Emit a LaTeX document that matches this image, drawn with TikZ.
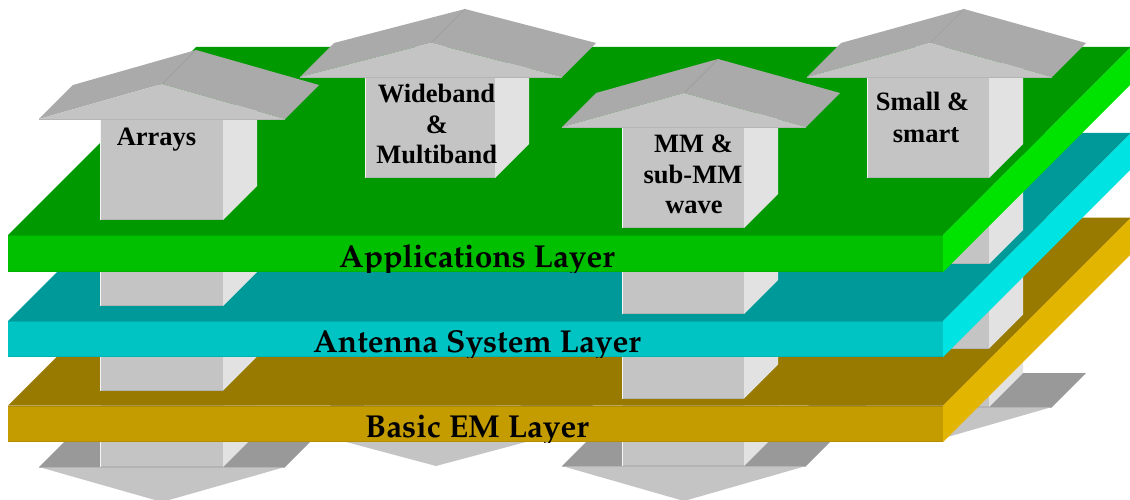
\documentclass[tikz,border=0pt]{standalone}
\usepackage[T1]{fontenc}
\usepackage{fontspec}
\newfontfamily\timesfont{Liberation Serif}
\IfFileExists{t1ppl.fd}
  {\newcommand\palb{\fontencoding{T1}\fontfamily{ppl}\fontseries{b}\fontsize{31.7}{34}\selectfont}}
  {\newcommand\palb{\timesfont\bfseries\fontsize{33.5}{36}\selectfont}}
\definecolor{gTop}{HTML}{009900}
\definecolor{gFront}{HTML}{00C000}
\definecolor{gSide}{HTML}{00E300}
\definecolor{cTop}{HTML}{009999}
\definecolor{cFront}{HTML}{00C3C3}
\definecolor{cSide}{HTML}{00E3E3}
\definecolor{oTop}{HTML}{997A00}
\definecolor{oFront}{HTML}{C49C00}
\definecolor{oSide}{HTML}{E2B500}
\definecolor{pFront}{HTML}{C4C4C4}
\definecolor{pSide}{HTML}{E2E2E2}
\definecolor{pRoof}{HTML}{AAAAAA}
\definecolor{pFlange}{HTML}{999999}
\definecolor{pEdge}{HTML}{B4B4B4}
\tikzset{
  layerlabel/.style={font=\palb, text=black, inner sep=0pt, anchor=base},
  arrowtxt/.style={font=\timesfont\bfseries\fontsize{26.5}{30}\selectfont, text=black, inner sep=0pt, anchor=base},
}
% layer: Ytop, Ybottom, top colour, front colour, side colour, node name, label
\newcommand\drawlayer[7]{%
  \fill[#3] (8,#1) -- (943,#1) -- (1131,{#1-188}) -- (196,{#1-188}) -- cycle;
  \fill[#4] (8,#1) rectangle (943,#2);
  \draw[#4!88!black, line width=1.2pt] (8,{#1+0.6}) -- (943,{#1+0.6});
  \draw[#4!92!black, line width=0.8pt] (8,{#2-0.4}) -- (943,{#2-0.4});
  \fill[#5] (943,#1) -- (1131,{#1-188}) -- (1131,{#2-188}) -- (943,#2) -- cycle;
  \begin{scope}
    \clip (8,#1) rectangle (943,#2);
    \node[layerlabel] (#6) at (477,{#2-5}) {#7};
  \end{scope}}
% column: L, R, ybottom, ytop
\newcommand\pcol[4]{%
  \fill[pSide] (#2,#3) -- ({#2+34},{#3-34}) -- ({#2+34},{#4-34}) -- (#2,#4) -- cycle;
  \fill[pFront] (#1,#3) rectangle (#2,#4);
  \draw[pEdge, line width=1pt] (#1,{#3-0.5}) -- (#2,{#3-0.5});
  \draw[white!85!pFront, line width=0.8pt] ({#1+0.4},#3) -- ({#1+0.4},#4);}
% top arrow head: left x, right x, base y, apex x, apex y
\newcommand\tophead[5]{%
  \fill[pRoof] (#1,#3) -- (#4,#5) -- ({#4+34},{#5-34}) -- ({#1+34},{#3-34}) -- cycle;
  \fill[pRoof] (#4,#5) -- (#2,#3) -- ({#2+34},{#3-34}) -- ({#4+34},{#5-34}) -- cycle;
  \draw[pRoof!92!black, line width=0.6pt] (#4,#5) -- ({#4+34},{#5-34});
  \fill[pFront] (#1,#3) -- (#4,#5) -- (#2,#3) -- cycle;
  \draw[pEdge, line width=0.8pt] (#1,#3) -- (#2,#3);}
% bottom arrow head: left x, right x, base y, apex x, apex y
\newcommand\bothead[5]{%
  \fill[pFlange] (#1,#3) -- (#2,#3) -- ({#2+34},{#3-34}) -- ({#1+34},{#3-34}) -- cycle;
  \fill[pFront] (#1,#3) -- (#4,#5) -- (#2,#3) -- cycle;
  \draw[pEdge, line width=0.8pt] (#1,{#3+0.4}) -- (#2,{#3+0.4});}
\begin{document}
\begin{tikzpicture}[x=1pt,y=-1pt]
\useasboundingbox (0,0) rectangle (1130,500);
\clip (0,0) rectangle (1130,500);
% below the basic EM layer
\bothead{305}{567}{431}{436}{466}
\pcol{365}{495}{431}{77}
\bothead{807}{1052}{407}{930}{442}
\pcol{867}{989}{407}{77}
\bothead{39}{285}{467}{162}{502}
\pcol{100}{223}{467}{119}
\bothead{562}{806}{466}{684}{501}
\pcol{622}{744}{466}{127}
\drawlayer{405.5}{442}{oTop}{oFront}{oSide}{basic}{Basic EM Layer}
% between basic EM and antenna system layers
\pcol{365}{495}{348.5}{77}
\pcol{867}{989}{348.5}{77}
\pcol{100}{223}{390.5}{119}
\pcol{622}{744}{398.5}{127}
\drawlayer{321}{357}{cTop}{cFront}{cSide}{antenna}{Antenna System Layer}
% between antenna system and applications layers
\pcol{365}{495}{264}{77}
\pcol{867}{989}{264}{77}
\pcol{100}{223}{306}{119}
\pcol{622}{744}{314}{127}
\drawlayer{235}{272}{gTop}{gFront}{gSide}{apps}{Applications Layer}
% above the applications layer
\pcol{365}{495}{178}{77}
\pcol{867}{989}{178}{77}
\pcol{100}{223}{220}{119}
\pcol{622}{744}{228}{127}
\tophead{300}{562}{77}{431}{43}
\tophead{807}{1052}{77}{930}{43}
\tophead{39}{285}{119}{162}{84}
\tophead{562}{806}{127}{684}{93}
% labels
\node[arrowtxt] (arrays) at (156.5,145.7) {Arrays};
\node[arrowtxt] (wide1) at (436.5,102.7) {Wideband};
\node[arrowtxt] (wide2) at (437,133.3) {\&};
\node[arrowtxt] (wide3) at (436.7,164) {Multiband};
\node[arrowtxt] (mm1) at (693.5,152.7) {MM \&};
\node[arrowtxt] (mm2) at (693,183.3) {sub-MM};
\node[arrowtxt] (mm3) at (694,213) {wave};
\node[arrowtxt] (small1) at (922.5,110.7) {Small \&};
\node[arrowtxt] (small2) at (926,142.7) {smart};
\end{tikzpicture}
\end{document}
